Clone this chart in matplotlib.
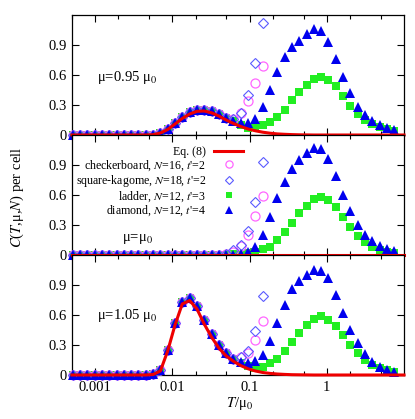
import matplotlib
matplotlib.use("Agg")
import matplotlib.pyplot as plt
from matplotlib.ticker import FixedLocator, FixedFormatter, LogLocator, NullFormatter

plt.rcParams['font.family'] = ['Liberation Serif', 'DejaVu Serif']
plt.rcParams['mathtext.fontset'] = 'stix'

# temperature grid of the data points (T/mu0)
T = [0.000511, 0.000635, 0.00079, 0.000982, 0.00122, 0.00152, 0.00189, 0.00235,
     0.00292, 0.00363, 0.00451, 0.00561, 0.00698, 0.00868, 0.0108, 0.0134,
     0.0167, 0.0208, 0.0258, 0.0321, 0.0399, 0.0497, 0.0618, 0.0768, 0.0955,
     0.119, 0.148, 0.184, 0.228, 0.284, 0.353, 0.439, 0.546, 0.679, 0.844,
     1.05, 1.31, 1.62, 2.02, 2.51, 3.12, 3.88, 4.83, 6.0, 7.46]
# Eq. (8) is drawn over the whole axis
T_eq = [0.0005] + T + [10.0]

# ---- mu = 0.95 mu0 ----
eq8_095 = [0, 0, 0, 0, 0, 0, 0, 0, 0, 0, 0, 0, 0.003, 0.02, 0.055, 0.11, 0.165,
           0.21, 0.237, 0.24, 0.222, 0.19, 0.15, 0.115, 0.085, 0.06, 0.042, 0.028,
           0.018, 0.011, 0.007, 0.004, 0.002, 0.001, 0, 0, 0, 0, 0, 0, 0, 0, 0,
           0, 0, 0, 0]
checker_095 = [0, 0, 0, 0, 0, 0, 0, 0, 0, 0, 0, 0.005, 0.025, 0.065, 0.12, 0.18,
               0.225, 0.248, 0.25, 0.235, 0.205, 0.17, 0.155, 0.215, 0.335, 0.515, 0.69]
kagome_095 = [0, 0, 0, 0, 0, 0, 0, 0, 0, 0, 0, 0.005, 0.025, 0.065, 0.12, 0.18,
              0.225, 0.248, 0.25, 0.235, 0.205, 0.17, 0.16, 0.22, 0.4, 0.72, 1.12]
ladder_095 = [0, 0, 0, 0, 0, 0, 0, 0, 0, 0, 0, 0.005, 0.025, 0.065, 0.12, 0.18,
              0.225, 0.248, 0.25, 0.235, 0.205, 0.17, 0.14, 0.105, 0.075, 0.08, 0.1,
              0.133, 0.183, 0.25, 0.35, 0.433, 0.5, 0.56, 0.58, 0.55, 0.49, 0.39,
              0.29, 0.207, 0.15, 0.11, 0.08, 0.057, 0.04]
diamond_095 = [0, 0, 0, 0, 0, 0, 0, 0, 0, 0, 0, 0.005, 0.025, 0.065, 0.12, 0.18,
               0.225, 0.248, 0.25, 0.235, 0.205, 0.17, 0.14, 0.12, 0.125, 0.157,
               0.28, 0.445, 0.627, 0.777, 0.877, 0.943, 1.01, 1.057, 1.04, 0.93,
               0.757, 0.577, 0.417, 0.283, 0.2, 0.14, 0.1, 0.07, 0.05]

# ---- mu = mu0 ----
eq8_100 = [0.0] * 47
checker_100 = [0, 0, 0, 0, 0, 0, 0, 0, 0, 0, 0, 0, 0, 0, 0, 0, 0, 0, 0, 0, 0,
               0.005, 0.03, 0.09, 0.2, 0.39, 0.59]
kagome_100 = [0, 0, 0, 0, 0, 0, 0, 0, 0, 0, 0, 0, 0, 0, 0, 0, 0, 0, 0, 0, 0,
              0.01, 0.05, 0.1, 0.24, 0.525, 0.925]
ladder_100 = [0, 0, 0, 0, 0, 0, 0, 0, 0, 0, 0, 0, 0, 0, 0, 0, 0, 0, 0, 0, 0, 0,
              0.005, 0.012, 0.02, 0.033, 0.057, 0.083, 0.15, 0.233, 0.323, 0.417,
              0.49, 0.557, 0.577, 0.55, 0.483, 0.38, 0.28, 0.19, 0.125, 0.083,
              0.05, 0.03, 0.023]
diamond_100 = [0, 0, 0, 0, 0, 0, 0, 0, 0, 0, 0, 0, 0, 0, 0, 0, 0, 0, 0, 0, 0, 0,
               0.003, 0.01, 0.033, 0.083, 0.2, 0.377, 0.567, 0.733, 0.857, 0.95,
               1.017, 1.067, 1.057, 0.957, 0.79, 0.6, 0.435, 0.3, 0.2, 0.135,
               0.088, 0.055, 0.035]

# ---- mu = 1.05 mu0 ----
eq8_105 = [0, 0, 0, 0, 0, 0, 0, 0, 0, 0, 0, 0, 0.005, 0.04, 0.24, 0.5, 0.71,
           0.745, 0.66, 0.51, 0.38, 0.27, 0.19, 0.137, 0.094, 0.062, 0.04, 0.025,
           0.016, 0.01, 0.006, 0.003, 0.002, 0.001, 0, 0, 0, 0, 0, 0, 0, 0, 0,
           0, 0, 0, 0]
checker_105 = [0, 0, 0, 0, 0, 0, 0, 0, 0, 0, 0, 0.008, 0.05, 0.25, 0.52, 0.73,
               0.77, 0.69, 0.55, 0.41, 0.3, 0.22, 0.165, 0.18, 0.22, 0.347, 0.537]
kagome_105 = [0, 0, 0, 0, 0, 0, 0, 0, 0, 0, 0, 0.008, 0.05, 0.25, 0.52, 0.73,
              0.77, 0.69, 0.55, 0.41, 0.3, 0.22, 0.165, 0.18, 0.237, 0.444, 0.794]
ladder_105 = [0, 0, 0, 0, 0, 0, 0, 0, 0, 0, 0, 0.008, 0.05, 0.25, 0.52, 0.73,
              0.77, 0.69, 0.55, 0.41, 0.3, 0.22, 0.165, 0.12, 0.09, 0.07, 0.077,
              0.12, 0.163, 0.237, 0.33, 0.42, 0.5, 0.56, 0.587, 0.555, 0.49, 0.4,
              0.3, 0.22, 0.155, 0.105, 0.07, 0.047, 0.035]
diamond_105 = [0, 0, 0, 0, 0, 0, 0, 0, 0, 0, 0, 0.008, 0.05, 0.25, 0.52, 0.73,
               0.77, 0.69, 0.55, 0.41, 0.3, 0.22, 0.165, 0.135, 0.125, 0.137, 0.2,
               0.337, 0.52, 0.7, 0.86, 0.94, 1.0, 1.05, 1.04, 0.97, 0.8, 0.62,
               0.454, 0.32, 0.21, 0.13, 0.08, 0.05, 0.03]

panel_labels = [r'μ=0.95 μ$_0$', r'μ=μ$_0$', r'μ=1.05 μ$_0$']
legend_labels = ['Eq. (8)',
                 r"checkerboard, $N$=16, $t$'=2",
                 r"square-kagome, $N$=18, $t$'=2",
                 r"ladder, $N$=12, $t$'=3",
                 r"diamond, $N$=12, $t$'=4"]
xtick_vals = [0.001, 0.01, 0.1, 1]
xtick_labels = ['0.001', '0.01', '0.1', '1']
ytick_vals = [0, 0.3, 0.6, 0.9]
ytick_labels = ['0', '0.3', '0.6', '0.9']

panels = [
    (eq8_095, checker_095, kagome_095, ladder_095, diamond_095),
    (eq8_100, checker_100, kagome_100, ladder_100, diamond_100),
    (eq8_105, checker_105, kagome_105, ladder_105, diamond_105),
]
label_pos = [(0.075, 0.48), (0.15, 0.13), (0.075, 0.5)]

fig = plt.figure(figsize=(4.15, 4.19), dpi=100)
left, width, h = 72 / 415, 332 / 415, 120 / 419
bottoms = [(419 - 135) / 419, (419 - 255) / 419, (419 - 375) / 419]

axes = []
for i, (eq8, chk, kag, lad, dia) in enumerate(panels):
    ax = fig.add_axes([left, bottoms[i], width, h])
    axes.append(ax)
    n = len(chk)
    l_lad, = ax.plot(T, lad, 's', color='#22ee22', ms=5.2, mew=0, clip_on=False, zorder=3)
    l_chk, = ax.plot(T[:n], chk, 'o', mfc='none', mec='#ff66ff', ms=6.5, mew=0.9,
                     clip_on=False, zorder=4)
    l_kag, = ax.plot(T[:n], kag, 'D', mfc='none', mec='#5a5aff', ms=4.8, mew=0.8,
                     clip_on=False, zorder=4)
    l_dia, = ax.plot(T, dia, '^', color='#0000ee', ms=6.5, mew=0, clip_on=False, zorder=5)
    l_eq, = ax.plot(T_eq, eq8, '-', color='#ee0000', lw=2.2, clip_on=False, zorder=6)

    ax.set_xscale('log')
    ax.set_xlim(0.0005, 10)
    ax.set_ylim(0, 1.2)
    ax.xaxis.set_major_locator(FixedLocator(xtick_vals))
    ax.xaxis.set_minor_locator(LogLocator(base=10, subs=(2.0, 5.0), numticks=20))
    ax.xaxis.set_minor_formatter(NullFormatter())
    if i == 2:
        ax.xaxis.set_major_formatter(FixedFormatter(xtick_labels))
    else:
        ax.xaxis.set_major_formatter(NullFormatter())
    ax.set_yticks(ytick_vals)
    ax.set_yticklabels(ytick_labels)
    ax.tick_params(which='both', direction='in', top=True, right=True, labelsize=10.5,
                   width=0.8, pad=4)
    ax.tick_params(which='major', length=5)
    ax.tick_params(which='minor', length=3)
    for s in ax.spines.values():
        s.set_linewidth(0.9)
    ax.text(label_pos[i][0], label_pos[i][1], panel_labels[i], transform=ax.transAxes,
            va='center', ha='left', fontsize=10.5)

    if i == 1:
        leg = ax.legend([l_eq, l_chk, l_kag, l_lad, l_dia], legend_labels,
                        loc='upper right', bbox_to_anchor=(0.515, 0.91),
                        frameon=False, markerfirst=False, fontsize=8.6,
                        handlelength=2.4, handletextpad=0.7, labelspacing=0.02,
                        markerscale=0.8, borderaxespad=0, borderpad=0)
        # right-align the entries like gnuplot keys
        for col in leg._legend_handle_box.get_children():
            col.align = 'right'

fig.text(0.042, 0.53, r'$C$($T$,μ,$N$) per cell', rotation=90, ha='center',
         va='center', fontsize=10.5)
fig.text(0.578, 0.036, r'$T$/μ$_0$', ha='center', va='center', fontsize=10.5)

fig.savefig('out.png', dpi=100)
